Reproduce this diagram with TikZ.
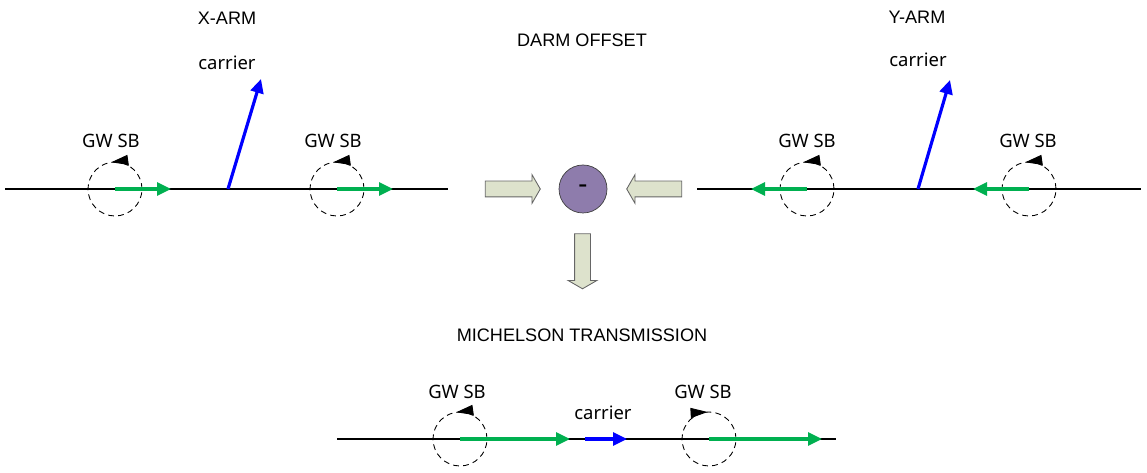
\documentclass[tikz,border=0pt]{standalone}
\usepackage{fontspec}
\setmainfont{Noto Sans}
\newfontfamily\titlefont{Liberation Sans}
\usetikzlibrary{arrows.meta,shapes.arrows}

\definecolor{sbgreen}{RGB}{0,176,80}
\definecolor{darmpurple}{RGB}{142,124,172}
\definecolor{blockfill}{RGB}{221,226,204}

\begin{document}
\begin{tikzpicture}[
  x=0.02cm, y=0.02cm,
  title/.style={font=\titlefont\fontsize{10.3}{12}\selectfont, inner sep=0pt},
  lbl/.style={font=\fontsize{10.5}{12}\selectfont, inner sep=0pt},
  axis/.style={line width=0.7pt},
  sb/.style={draw, circle, dash pattern=on 3.3pt off 2.4pt, line width=0.5pt, minimum size=1.08cm, inner sep=0pt},
  sbvec/.style={-{Triangle[length=2.8mm,width=2.6mm]}, sbgreen, line width=1.8pt},
  carvec/.style={-{Triangle[length=2.8mm,width=2.6mm]}, blue, line width=1.8pt},
  spin/.style={-{Triangle[length=3.4mm,width=2mm]}, line width=0.5pt},
  block/.style={single arrow, draw=black!60, fill=blockfill, line width=0.5pt,
    minimum height=1.1cm, inner xsep=0pt, inner ysep=0.15cm,
    single arrow head extend=0.13cm, single arrow tip angle=120},
  blockdown/.style={block, shape border rotate=270, inner xsep=0.15cm, inner ysep=0pt}
]
\useasboundingbox (0,0) rectangle (1147,473);

% titles
\node[title] (xtitle) at (227,455) {X-ARM};
\node[title] (dtitle) at (582,433) {DARM OFFSET};
\node[title] (ytitle) at (917,456) {Y-ARM};
\node[title] (mtitle) at (582,138) {MICHELSON TRANSMISSION};

% x-arm
\coordinate (xa) at (5,284);
\coordinate (xb) at (448,284);
\draw[axis] (xa) -- (xb);
\node[sb] (xl) at (115,284) {};
\node[sb] (xr) at (337,284) {};
\draw[sbvec] (xl.center) -- ++(56,0);
\draw[sbvec] (xr.center) -- ++(56,0);
\draw[spin] (xl.center) ++(60:27) arc[start angle=60, end angle=98, radius=27];
\draw[spin] (xr.center) ++(60:27) arc[start angle=60, end angle=98, radius=27];
\coordinate (xc) at (228,284);
\draw[carvec] (xc) -- ++(33,110);
\node[lbl] (xcl) at (227,410) {carrier};
\node[lbl] (xll) at (111,332) {GW SB};
\node[lbl] (xrl) at (333,332) {GW SB};

% y-arm
\coordinate (ya) at (697,284);
\coordinate (yb) at (1141,284);
\draw[axis] (ya) -- (yb);
\node[sb] (yl) at (807,284) {};
\node[sb] (yr) at (1029,284) {};
\draw[sbvec] (yl.center) -- ++(-56,0);
\draw[sbvec] (yr.center) -- ++(-56,0);
\draw[spin] (yl.center) ++(60:27) arc[start angle=60, end angle=98, radius=27];
\draw[spin] (yr.center) ++(60:27) arc[start angle=60, end angle=98, radius=27];
\coordinate (yc) at (918,284);
\draw[carvec] (yc) -- ++(32,109);
\node[lbl] (ycl) at (918,413) {carrier};
\node[lbl] (yll) at (807,332) {GW SB};
\node[lbl] (yrl) at (1028,332) {GW SB};

% darm offset
\node[block] (inx) at (510.5,284) {};
\node[block, shape border rotate=180] (iny) at (656.5,284) {};
\node[draw=black!75, fill=darmpurple, circle, minimum size=0.96cm, inner sep=0pt,
  font=\fontsize{16}{16}\selectfont\bfseries] (darm) at (583,284) {-};
\node[blockdown] (out) at (582.5,214) {};

% michelson transmission
\coordinate (ma) at (337,34);
\coordinate (mb) at (836,34);
\draw[axis] (ma) -- (mb);
\node[sb] (ml) at (460,34) {};
\node[sb] (mr) at (709,34) {};
\draw[sbvec] (ml.center) -- ++(110,0);
\draw[sbvec] (mr.center) -- ++(113,0);
\draw[spin] (ml.center) ++(60:27) arc[start angle=60, end angle=98, radius=27];
\draw[spin] (mr.center) ++(128:27) arc[start angle=128, end angle=93, radius=27];
\coordinate (mc) at (585,34);
\draw[carvec] (mc) -- ++(42,0);
\node[lbl] (mcl) at (603,60) {carrier};
\node[lbl] (mll) at (457,81) {GW SB};
\node[lbl] (mrl) at (703,81) {GW SB};
\end{tikzpicture}
\end{document}
